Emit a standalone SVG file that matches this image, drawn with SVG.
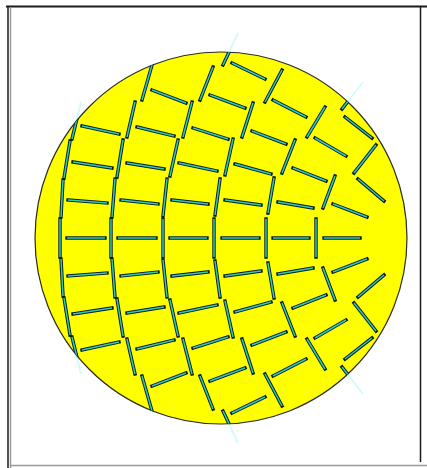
<svg xmlns="http://www.w3.org/2000/svg" xmlns:xlink="http://www.w3.org/1999/xlink" width="427" height="468" viewBox="0 0 427 468">
<style>
.frame-dark{stroke:#1a1a1a;fill:none}
.frame-gray{stroke:#9a9a9a;fill:none}
</style>
<defs>
<clipPath id="disk"><circle cx="221" cy="238" r="186"/></clipPath>
<g id="segs">
<line x1="60" y1="219" x2="60" y2="257"/><line x1="111" y1="219" x2="111" y2="257"/><line x1="163" y1="219" x2="163" y2="257"/><line x1="214" y1="219" x2="214" y2="257"/><line x1="266" y1="219" x2="266" y2="257"/><line x1="316" y1="219" x2="316" y2="257"/>
<line x1="67" y1="238" x2="105" y2="238"/><line x1="118" y1="238" x2="156" y2="238"/><line x1="170" y1="238" x2="207" y2="238"/><line x1="222" y1="238" x2="259" y2="238"/><line x1="273" y1="238" x2="309" y2="238"/><line x1="324" y1="238" x2="360" y2="238"/>
<line x1="63" y1="180" x2="61" y2="217"/><line x1="115" y1="179" x2="112" y2="217"/><line x1="167" y1="179" x2="163" y2="216"/><line x1="220" y1="179" x2="215" y2="215"/><line x1="274" y1="178" x2="268" y2="213"/><line x1="335" y1="176" x2="323" y2="208"/>
<line x1="70" y1="141" x2="64" y2="178"/><line x1="123" y1="140" x2="117" y2="177"/><line x1="178" y1="140" x2="170" y2="176"/><line x1="233" y1="139" x2="225" y2="175"/><line x1="295" y1="140" x2="282" y2="173"/><line x1="376" y1="145" x2="354" y2="173"/>
<line x1="81" y1="102" x2="72" y2="139"/><line x1="135" y1="102" x2="127" y2="137"/><line x1="192" y1="102" x2="183" y2="137"/><line x1="253" y1="103" x2="242" y2="137"/><line x1="325" y1="107" x2="307" y2="137"/>
<line x1="152" y1="65" x2="142" y2="100"/><line x1="213" y1="67" x2="200" y2="100"/><line x1="282" y1="70" x2="265" y2="102"/><line x1="363" y1="82" x2="342" y2="109"/>
<line x1="238" y1="33" x2="223" y2="65"/>
<line x1="68" y1="200" x2="107" y2="203"/><line x1="121" y1="200" x2="158" y2="204"/><line x1="172" y1="200" x2="208" y2="204"/><line x1="225" y1="200" x2="261" y2="205"/><line x1="278" y1="202" x2="313" y2="208"/><line x1="333" y1="204" x2="367" y2="217"/>
<line x1="73" y1="162" x2="112" y2="168"/><line x1="127" y1="163" x2="164" y2="169"/><line x1="179" y1="163" x2="217" y2="171"/><line x1="235" y1="164" x2="271" y2="174"/><line x1="293" y1="168" x2="326" y2="181"/><line x1="358" y1="179" x2="384" y2="201"/>
<line x1="82" y1="126" x2="119" y2="134"/><line x1="137" y1="127" x2="174" y2="136"/><line x1="193" y1="128" x2="228" y2="139"/><line x1="252" y1="131" x2="286" y2="144"/><line x1="315" y1="138" x2="346" y2="156"/>
<line x1="152" y1="90" x2="186" y2="103"/><line x1="210" y1="95" x2="245" y2="108"/><line x1="273" y1="100" x2="306" y2="117"/><line x1="345" y1="117" x2="372" y2="138"/>
<line x1="232" y1="63" x2="265" y2="79"/>
<line x1="63" y1="296" x2="61" y2="259"/><line x1="115" y1="297" x2="112" y2="259"/><line x1="167" y1="297" x2="163" y2="260"/><line x1="220" y1="297" x2="215" y2="261"/><line x1="274" y1="298" x2="268" y2="263"/><line x1="335" y1="300" x2="323" y2="268"/>
<line x1="70" y1="335" x2="64" y2="298"/><line x1="123" y1="336" x2="117" y2="299"/><line x1="178" y1="336" x2="170" y2="300"/><line x1="233" y1="337" x2="225" y2="301"/><line x1="295" y1="336" x2="282" y2="303"/><line x1="376" y1="331" x2="354" y2="303"/>
<line x1="81" y1="374" x2="72" y2="337"/><line x1="135" y1="374" x2="127" y2="339"/><line x1="192" y1="374" x2="183" y2="339"/><line x1="253" y1="373" x2="242" y2="339"/><line x1="325" y1="369" x2="307" y2="339"/>
<line x1="152" y1="411" x2="142" y2="376"/><line x1="213" y1="409" x2="200" y2="376"/><line x1="282" y1="406" x2="265" y2="374"/><line x1="363" y1="394" x2="342" y2="367"/>
<line x1="238" y1="443" x2="223" y2="411"/>
<line x1="68" y1="276" x2="107" y2="273"/><line x1="121" y1="276" x2="158" y2="272"/><line x1="172" y1="276" x2="208" y2="272"/><line x1="225" y1="276" x2="261" y2="271"/><line x1="278" y1="274" x2="313" y2="268"/><line x1="333" y1="272" x2="367" y2="259"/>
<line x1="73" y1="314" x2="112" y2="308"/><line x1="127" y1="313" x2="164" y2="307"/><line x1="179" y1="313" x2="217" y2="305"/><line x1="235" y1="312" x2="271" y2="302"/><line x1="293" y1="308" x2="326" y2="295"/><line x1="358" y1="297" x2="384" y2="275"/>
<line x1="82" y1="350" x2="119" y2="342"/><line x1="137" y1="349" x2="174" y2="340"/><line x1="193" y1="348" x2="228" y2="337"/><line x1="252" y1="345" x2="286" y2="332"/><line x1="315" y1="338" x2="346" y2="320"/>
<line x1="152" y1="386" x2="186" y2="373"/><line x1="210" y1="381" x2="245" y2="368"/><line x1="273" y1="376" x2="306" y2="359"/><line x1="345" y1="359" x2="372" y2="338"/>
<line x1="232" y1="413" x2="265" y2="397"/>
</g>
</defs>
<rect x="0" y="0" width="427" height="468" fill="#ffffff"/>
<g id="frame">
<line class="frame-dark" x1="6" y1="6.5" x2="427" y2="6.5" stroke-width="2"/>
<line class="frame-dark" x1="8" y1="6" x2="8" y2="468" stroke-width="1.5"/>
<line class="frame-gray" x1="10.5" y1="8" x2="10.5" y2="468" stroke-width="1.5"/>
<line class="frame-dark" x1="420.5" y1="6" x2="420.5" y2="462" stroke-width="1.5"/>
<line class="frame-gray" x1="10" y1="465.5" x2="427" y2="465.5" stroke-width="1.5"/>
</g>
<g id="faint">
<use xlink:href="#segs" href="#segs" stroke="#d6fafa" stroke-width="2" stroke-linecap="butt"/>
</g>
<g id="disk-shape">
<circle cx="221" cy="238" r="186" fill="#ffff00" stroke="#2a2a2a" stroke-width="1.2"/>
</g>
<g id="segments" clip-path="url(#disk)">
<use xlink:href="#segs" href="#segs" stroke="#0a1a1a" stroke-width="3.4" stroke-linecap="square"/>
<use xlink:href="#segs" href="#segs" stroke="#2ec8c8" stroke-width="1.5" stroke-linecap="butt"/>
</g>
</svg>
